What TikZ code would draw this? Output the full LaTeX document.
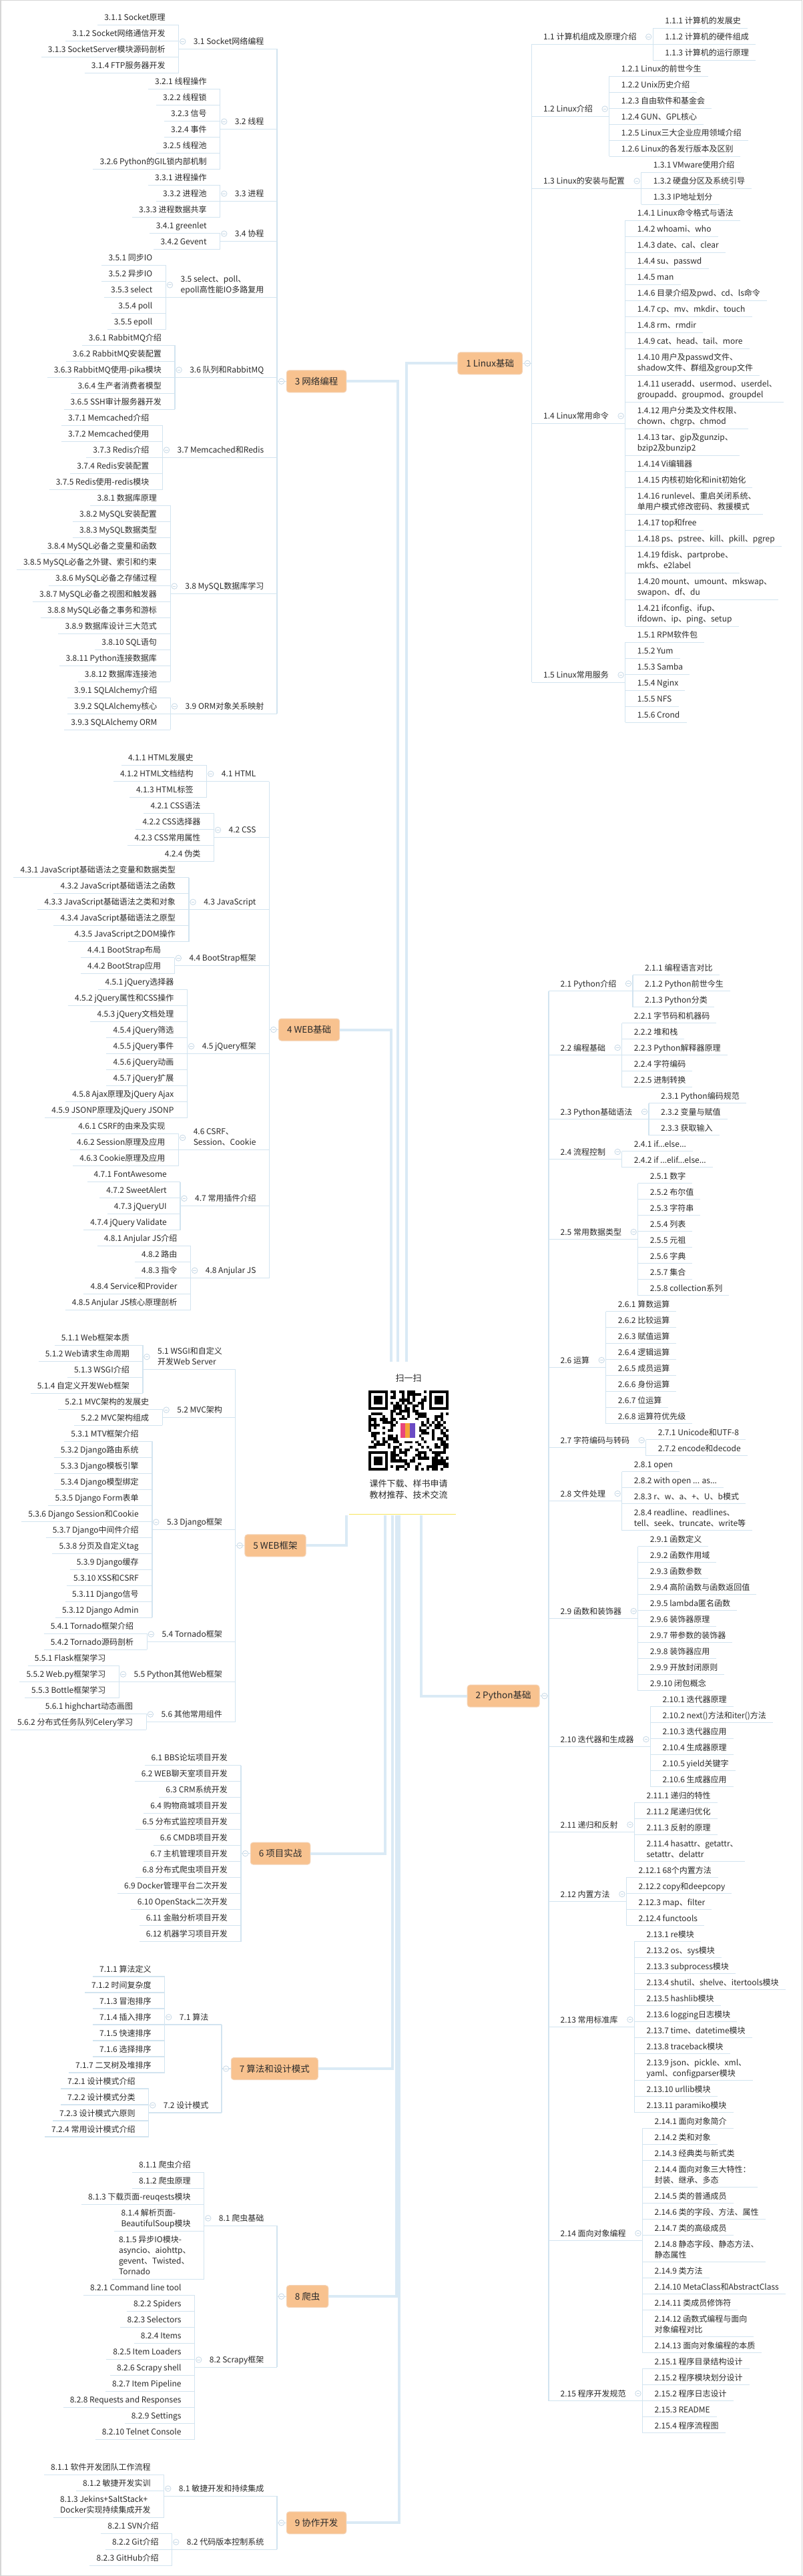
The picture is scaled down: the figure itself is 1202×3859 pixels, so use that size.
\documentclass[tikz,border=0pt]{standalone}
\usepackage{fontspec}
\setmainfont{Noto Sans CJK SC}
\usetikzlibrary{calc}
\definecolor{ulc}{HTML}{D2E4F0}
\definecolor{connc}{HTML}{DAEAF5}
\definecolor{boxfill}{HTML}{F8C28F}
\definecolor{boxline}{HTML}{F4D3B6}
\definecolor{txtc}{HTML}{2A2A2A}
\definecolor{circc}{HTML}{C6D8E6}
\definecolor{qrpink}{HTML}{E8457C}
\definecolor{qrorange}{HTML}{F4A336}
\definecolor{qrpurple}{HTML}{6A4BC4}
\definecolor{hubline}{HTML}{F6E45A}
\definecolor{pagec}{HTML}{D6D6D6}

\newdimen\Wd
\newcount\LeafNo
\newcount\SubNo
\newif\ifRight
\def\lfnt{\fontsize{12}{16}\selectfont}
\def\bfnt{\fontsize{13.5}{16}\selectfont}
\def\hfnt{\fontsize{13}{17}\selectfont}

\tikzset{
  uln/.style={ulc, line width=1.3pt},
  leaf/.style={inner sep=0pt, align=left, font=\lfnt, text=txtc},
  subt/.style={inner sep=0pt, align=left, font=\lfnt, text=txtc},
  mainbox/.style={rounded corners=4pt, fill=boxfill, draw=boxline, line width=1pt,
    minimum height=33pt, inner xsep=12.5pt, inner ysep=0pt, font=\bfnt, text=txtc},
  collapse/.style={circle, draw=circc, fill=white, line width=0.8pt, minimum size=8.5pt, inner sep=0pt,
    path picture={\draw[circc, line width=0.9pt] ([xshift=-2.3pt]path picture bounding box.center) -- ([xshift=2.3pt]path picture bounding box.center);}},
  conn/.style={connc, line width=4pt},
}

\makeatletter
\def\StartSec#1#2#3{\xdef\TrunkX{#1}\xdef\Ycur{#2}\gdef\SFirst{}\gdef\SLast{}%
  \ifnum#3=1 \global\Righttrue\else\global\Rightfalse\fi}
\def\SubBegin#1{\gdef\SubText{#1}\gdef\FirstY{}\gdef\LastY{}\gdef\LeafQueue{}}
\def\Leaf#1#2{%
  \pgfmathsetmacro\tmpA{\Ycur+24+16*(#2-1)}\xdef\Ycur{\tmpA}%
  \ifx\FirstY\empty\xdef\FirstY{\Ycur}\fi
  \xdef\LastY{\Ycur}%
  \xdef\LeafQueue{\unexpanded\expandafter{\LeafQueue}\noexpand\PlaceLeaf{\unexpanded{#1}}{\Ycur}}}
\def\PlaceLeaf#1#2{%
  \global\advance\LeafNo by 1
  \xdef\nm{L\the\LeafNo}%
  \ifRight
    \node[leaf,anchor=south west] (\nm) at (\BrX+18,#2-1.7) {#1\strut};
    \draw[uln] (\BrX,#2) -- ([shift={(10pt,-1.7pt)}]\nm.south east);
  \else
    \node[leaf,anchor=south east] (\nm) at (\BrX-20,#2-1.7) {#1\strut};
    \draw[uln] ([shift={(-10pt,-1.7pt)}]\nm.south west) -- (\BrX,#2);
  \fi}
\def\SubEnd{%
  \global\advance\SubNo by 1
  \xdef\sn{S\the\SubNo}\xdef\cn{cc\the\SubNo}%
  \pgfmathsetmacro\tmpU{(\FirstY+\LastY)/2}%
  \ifRight
    \node[subt,anchor=south west] (\sn) at (\TrunkX+17.5,\tmpU-1.7) {\SubText\strut};
    \pgfextractx{\Wd}{\pgfpointanchor{\sn}{east}}%
    \edef\WdVal{\strip@pt\Wd}%
    \pgfmathsetmacro\tmpA{\WdVal+24.5}%
  \else
    \node[subt,anchor=south east] (\sn) at (\TrunkX-19.5,\tmpU-1.7) {\SubText\strut};
    \pgfextractx{\Wd}{\pgfpointanchor{\sn}{west}}%
    \edef\WdVal{\strip@pt\Wd}%
    \pgfmathsetmacro\tmpA{\WdVal-22}%
  \fi
  \xdef\BrX{\tmpA}%
  \LeafQueue
  \draw[uln] (\BrX,\FirstY) -- (\BrX,\LastY);
  \ifRight
    \draw[uln] (\TrunkX,\tmpU) -- (\BrX,\tmpU);
    \coordinate (\cn) at (\BrX-6.5,0);
  \else
    \draw[uln] (\BrX,\tmpU) -- (\TrunkX,\tmpU);
    \coordinate (\cn) at (\BrX+6,0);
  \fi
  \node[collapse,yshift=1.3pt] (C\the\SubNo) at (\sn.center -| \cn) {};
  \ifx\SFirst\empty\xdef\SFirst{\tmpU}\fi
  \xdef\SLast{\tmpU}}
\def\EndSec#1#2{%
  \pgfmathsetmacro\tmpM{(\SFirst+\SLast)/2}%
  \draw[uln] (\TrunkX,\SFirst) -- (\TrunkX,\SLast);
  \ifRight
    \node[mainbox,anchor=east] (#1) at (\TrunkX-13.5,\tmpM) {#2};
    \draw[uln] (#1.east) -- (\TrunkX,\tmpM);
    \node[collapse] (#1c) at (\TrunkX-6.3,\tmpM) {};
  \else
    \node[mainbox,anchor=west] (#1) at (\TrunkX+13.8,\tmpM) {#2};
    \draw[uln] (\TrunkX,\tmpM) -- (#1.west);
    \node[collapse] (#1c) at (\TrunkX+6.6,\tmpM) {};
  \fi}
\makeatother

\begin{document}
\begin{tikzpicture}[x=1pt,y=-1pt]
\useasboundingbox (0,0) rectangle (1202,3859);
\fill[white] (0,0) rectangle (1202,3859);
\draw[pagec, line width=1.5pt] (0.75,0.75) rectangle (1201.25,3858.25);

% ===== Section 1 =====
\StartSec{796.5}{18.3}{1}
\SubBegin{1.1 计算机组成及原理介绍}
\Leaf{1.1.1 计算机的发展史}{1}
\Leaf{1.1.2 计算机的硬件组成}{1}
\Leaf{1.1.3 计算机的运行原理}{1}
\SubEnd
\SubBegin{1.2 Linux介绍}
\Leaf{1.2.1 Linux的前世今生}{1}
\Leaf{1.2.2 Unix历史介绍}{1}
\Leaf{1.2.3 自由软件和基金会}{1}
\Leaf{1.2.4 GUN、GPL核心}{1}
\Leaf{1.2.5 Linux三大企业应用领域介绍}{1}
\Leaf{1.2.6 Linux的各发行版本及区别}{1}
\SubEnd
\SubBegin{1.3 Linux的安装与配置}
\Leaf{1.3.1 VMware使用介绍}{1}
\Leaf{1.3.2 硬盘分区及系统引导}{1}
\Leaf{1.3.3 IP地址划分}{1}
\SubEnd
\SubBegin{1.4 Linux常用命令}
\Leaf{1.4.1 Linux命令格式与语法}{1}
\Leaf{1.4.2 whoami、who}{1}
\Leaf{1.4.3 date、cal、clear}{1}
\Leaf{1.4.4 su、passwd}{1}
\Leaf{1.4.5 man}{1}
\Leaf{1.4.6 目录介绍及pwd、cd、ls命令}{1}
\Leaf{1.4.7 cp、mv、mkdir、touch}{1}
\Leaf{1.4.8 rm、rmdir}{1}
\Leaf{1.4.9 cat、head、tail、more}{1}
\Leaf{1.4.10 用户及passwd文件、\\shadow文件、群组及group文件}{2}
\Leaf{1.4.11 useradd、usermod、userdel、\\groupadd、groupmod、groupdel}{2}
\Leaf{1.4.12 用户分类及文件权限、\\chown、chgrp、chmod}{2}
\Leaf{1.4.13 tar、gip及gunzip、\\bzip2及bunzip2}{2}
\Leaf{1.4.14 Vi编辑器}{1}
\Leaf{1.4.15 内核初始化和init初始化}{1}
\Leaf{1.4.16 runlevel、重启关闭系统、\\单用户模式修改密码、救援模式}{2}
\Leaf{1.4.17 top和free}{1}
\Leaf{1.4.18 ps、pstree、kill、pkill、pgrep}{1}
\Leaf{1.4.19 fdisk、partprobe、\\mkfs、e2label}{2}
\Leaf{1.4.20 mount、umount、mkswap、\\swapon、df、du}{2}
\Leaf{1.4.21 ifconfig、ifup、\\ifdown、ip、ping、setup}{2}
\SubEnd
\SubBegin{1.5 Linux常用服务}
\Leaf{1.5.1 RPM软件包}{1}
\Leaf{1.5.2 Yum}{1}
\Leaf{1.5.3 Samba}{1}
\Leaf{1.5.4 Nginx}{1}
\Leaf{1.5.5 NFS}{1}
\Leaf{1.5.6 Crond}{1}
\SubEnd
\EndSec{s1}{1 Linux基础}

% ===== Section 2 =====
\StartSec{822}{1436.7}{1}
\SubBegin{2.1 Python介绍}
\Leaf{2.1.1 编程语言对比}{1}
\Leaf{2.1.2 Python前世今生}{1}
\Leaf{2.1.3 Python分类}{1}
\SubEnd
\SubBegin{2.2 编程基础}
\Leaf{2.2.1 字节码和机器码}{1}
\Leaf{2.2.2 堆和栈}{1}
\Leaf{2.2.3 Python解释器原理}{1}
\Leaf{2.2.4 字符编码}{1}
\Leaf{2.2.5 进制转换}{1}
\SubEnd
\SubBegin{2.3 Python基础语法}
\Leaf{2.3.1 Python编码规范}{1}
\Leaf{2.3.2 变量与赋值}{1}
\Leaf{2.3.3 获取输入}{1}
\SubEnd
\SubBegin{2.4 流程控制}
\Leaf{2.4.1 if...else...}{1}
\Leaf{2.4.2 if ...elif...else...}{1}
\SubEnd
\SubBegin{2.5 常用数据类型}
\Leaf{2.5.1 数字}{1}
\Leaf{2.5.2 布尔值}{1}
\Leaf{2.5.3 字符串}{1}
\Leaf{2.5.4 列表}{1}
\Leaf{2.5.5 元祖}{1}
\Leaf{2.5.6 字典}{1}
\Leaf{2.5.7 集合}{1}
\Leaf{2.5.8 collection系列}{1}
\SubEnd
\SubBegin{2.6 运算}
\Leaf{2.6.1 算数运算}{1}
\Leaf{2.6.2 比较运算}{1}
\Leaf{2.6.3 赋值运算}{1}
\Leaf{2.6.4 逻辑运算}{1}
\Leaf{2.6.5 成员运算}{1}
\Leaf{2.6.6 身份运算}{1}
\Leaf{2.6.7 位运算}{1}
\Leaf{2.6.8 运算符优先级}{1}
\SubEnd
\SubBegin{2.7 字符编码与转码}
\Leaf{2.7.1 Unicode和UTF-8}{1}
\Leaf{2.7.2 encode和decode}{1}
\SubEnd
\SubBegin{2.8 文件处理}
\Leaf{2.8.1 open}{1}
\Leaf{2.8.2 with open ... as...}{1}
\Leaf{2.8.3 r、w、a、+、U、b模式}{1}
\Leaf{2.8.4 readline、readlines、\\tell、seek、truncate、write等}{2}
\SubEnd
\SubBegin{2.9 函数和装饰器}
\Leaf{2.9.1 函数定义}{1}
\Leaf{2.9.2 函数作用域}{1}
\Leaf{2.9.3 函数参数}{1}
\Leaf{2.9.4 高阶函数与函数返回值}{1}
\Leaf{2.9.5 lambda匿名函数}{1}
\Leaf{2.9.6 装饰器原理}{1}
\Leaf{2.9.7 带参数的装饰器}{1}
\Leaf{2.9.8 装饰器应用}{1}
\Leaf{2.9.9 开放封闭原则}{1}
\Leaf{2.9.10 闭包概念}{1}
\SubEnd
\SubBegin{2.10 迭代器和生成器}
\Leaf{2.10.1 迭代器原理}{1}
\Leaf{2.10.2 next()方法和iter()方法}{1}
\Leaf{2.10.3 迭代器应用}{1}
\Leaf{2.10.4 生成器原理}{1}
\Leaf{2.10.5 yield关键字}{1}
\Leaf{2.10.6 生成器应用}{1}
\SubEnd
\SubBegin{2.11 递归和反射}
\Leaf{2.11.1 递归的特性}{1}
\Leaf{2.11.2 尾递归优化}{1}
\Leaf{2.11.3 反射的原理}{1}
\Leaf{2.11.4 hasattr、getattr、\\setattr、delattr}{2}
\SubEnd
\SubBegin{2.12 内置方法}
\Leaf{2.12.1 68个内置方法}{1}
\Leaf{2.12.2 copy和deepcopy}{1}
\Leaf{2.12.3 map、filter}{1}
\Leaf{2.12.4 functools}{1}
\SubEnd
\SubBegin{2.13 常用标准库}
\Leaf{2.13.1 re模块}{1}
\Leaf{2.13.2 os、sys模块}{1}
\Leaf{2.13.3 subprocess模块}{1}
\Leaf{2.13.4 shutil、shelve、itertools模块}{1}
\Leaf{2.13.5 hashlib模块}{1}
\Leaf{2.13.6 logging日志模块}{1}
\Leaf{2.13.7 time、datetime模块}{1}
\Leaf{2.13.8 traceback模块}{1}
\Leaf{2.13.9 json、pickle、xml、\\yaml、configparser模块}{2}
\Leaf{2.13.10 urllib模块}{1}
\Leaf{2.13.11 paramiko模块}{1}
\SubEnd
\SubBegin{2.14 面向对象编程}
\Leaf{2.14.1 面向对象简介}{1}
\Leaf{2.14.2 类和对象}{1}
\Leaf{2.14.3 经典类与新式类}{1}
\Leaf{2.14.4 面向对象三大特性：\\封装、继承、多态}{2}
\Leaf{2.14.5 类的普通成员}{1}
\Leaf{2.14.6 类的字段、方法、属性}{1}
\Leaf{2.14.7 类的高级成员}{1}
\Leaf{2.14.8 静态字段、静态方法、\\静态属性}{2}
\Leaf{2.14.9 类方法}{1}
\Leaf{2.14.10 MetaClass和AbstractClass}{1}
\Leaf{2.14.11 类成员修饰符}{1}
\Leaf{2.14.12 函数式编程与面向\\对象编程对比}{2}
\Leaf{2.14.13 面向对象编程的本质}{1}
\SubEnd
\SubBegin{2.15 程序开发规范}
\Leaf{2.15.1 程序目录结构设计}{1}
\Leaf{2.15.2 程序模块划分设计}{1}
\Leaf{2.15.2 程序日志设计}{1}
\Leaf{2.15.3 README}{1}
\Leaf{2.15.4 程序流程图}{1}
\SubEnd
\EndSec{s2}{2 Python基础}

% ===== Section 3 =====
\StartSec{415}{13.3}{0}
\SubBegin{3.1 Socket网络编程}
\Leaf{3.1.1 Socket原理}{1}
\Leaf{3.1.2 Socket网络通信开发}{1}
\Leaf{3.1.3 SocketServer模块源码剖析}{1}
\Leaf{3.1.4 FTP服务器开发}{1}
\SubEnd
\SubBegin{3.2 线程}
\Leaf{3.2.1 线程操作}{1}
\Leaf{3.2.2 线程锁}{1}
\Leaf{3.2.3 信号}{1}
\Leaf{3.2.4 事件}{1}
\Leaf{3.2.5 线程池}{1}
\Leaf{3.2.6 Python的GIL锁内部机制}{1}
\SubEnd
\SubBegin{3.3 进程}
\Leaf{3.3.1 进程操作}{1}
\Leaf{3.3.2 进程池}{1}
\Leaf{3.3.3 进程数据共享}{1}
\SubEnd
\SubBegin{3.4 协程}
\Leaf{3.4.1 greenlet}{1}
\Leaf{3.4.2 Gevent}{1}
\SubEnd
\SubBegin{3.5 select、poll、\\epoll高性能IO多路复用}
\Leaf{3.5.1 同步IO}{1}
\Leaf{3.5.2 异步IO}{1}
\Leaf{3.5.3 select}{1}
\Leaf{3.5.4 poll}{1}
\Leaf{3.5.5 epoll}{1}
\SubEnd
\SubBegin{3.6 队列和RabbitMQ}
\Leaf{3.6.1 RabbitMQ介绍}{1}
\Leaf{3.6.2 RabbitMQ安装配置}{1}
\Leaf{3.6.3 RabbitMQ使用-pika模块}{1}
\Leaf{3.6.4 生产者消费者模型}{1}
\Leaf{3.6.5 SSH审计服务器开发}{1}
\SubEnd
\SubBegin{3.7 Memcached和Redis}
\Leaf{3.7.1 Memcached介绍}{1}
\Leaf{3.7.2 Memcached使用}{1}
\Leaf{3.7.3 Redis介绍}{1}
\Leaf{3.7.4 Redis安装配置}{1}
\Leaf{3.7.5 Redis使用-redis模块}{1}
\SubEnd
\SubBegin{3.8 MySQL数据库学习}
\Leaf{3.8.1 数据库原理}{1}
\Leaf{3.8.2 MySQL安装配置}{1}
\Leaf{3.8.3 MySQL数据类型}{1}
\Leaf{3.8.4 MySQL必备之变量和函数}{1}
\Leaf{3.8.5 MySQL必备之外键、索引和约束}{1}
\Leaf{3.8.6 MySQL必备之存储过程}{1}
\Leaf{3.8.7 MySQL必备之视图和触发器}{1}
\Leaf{3.8.8 MySQL必备之事务和游标}{1}
\Leaf{3.8.9 数据库设计三大范式}{1}
\Leaf{3.8.10 SQL语句}{1}
\Leaf{3.8.11 Python连接数据库}{1}
\Leaf{3.8.12 数据库连接池}{1}
\SubEnd
\SubBegin{3.9 ORM对象关系映射}
\Leaf{3.9.1 SQLAlchemy介绍}{1}
\Leaf{3.9.2 SQLAlchemy核心}{1}
\Leaf{3.9.3 SQLAlchemy ORM}{1}
\SubEnd
\EndSec{s3}{3 网络编程}

% ===== Section 4 =====
\StartSec{403.2}{1122.5}{0}
\SubBegin{4.1 HTML}
\Leaf{4.1.1 HTML发展史}{1}
\Leaf{4.1.2 HTML文档结构}{1}
\Leaf{4.1.3 HTML标签}{1}
\SubEnd
\SubBegin{4.2 CSS}
\Leaf{4.2.1 CSS语法}{1}
\Leaf{4.2.2 CSS选择器}{1}
\Leaf{4.2.3 CSS常用属性}{1}
\Leaf{4.2.4 伪类}{1}
\SubEnd
\SubBegin{4.3 JavaScript}
\Leaf{4.3.1 JavaScript基础语法之变量和数据类型}{1}
\Leaf{4.3.2 JavaScript基础语法之函数}{1}
\Leaf{4.3.3 JavaScript基础语法之类和对象}{1}
\Leaf{4.3.4 JavaScript基础语法之原型}{1}
\Leaf{4.3.5 JavaScript之DOM操作}{1}
\SubEnd
\SubBegin{4.4 BootStrap框架}
\Leaf{4.4.1 BootStrap布局}{1}
\Leaf{4.4.2 BootStrap应用}{1}
\SubEnd
\SubBegin{4.5 jQuery框架}
\Leaf{4.5.1 jQuery选择器}{1}
\Leaf{4.5.2 jQuery属性和CSS操作}{1}
\Leaf{4.5.3 jQuery文档处理}{1}
\Leaf{4.5.4 jQuery筛选}{1}
\Leaf{4.5.5 jQuery事件}{1}
\Leaf{4.5.6 jQuery动画}{1}
\Leaf{4.5.7 jQuery扩展}{1}
\Leaf{4.5.8 Ajax原理及jQuery Ajax}{1}
\Leaf{4.5.9 JSONP原理及jQuery JSONP}{1}
\SubEnd
\SubBegin{4.6 CSRF、\\Session、Cookie}
\Leaf{4.6.1 CSRF的由来及实现}{1}
\Leaf{4.6.2 Session原理及应用}{1}
\Leaf{4.6.3 Cookie原理及应用}{1}
\SubEnd
\SubBegin{4.7 常用插件介绍}
\Leaf{4.7.1 FontAwesome}{1}
\Leaf{4.7.2 SweetAlert}{1}
\Leaf{4.7.3 jQueryUI}{1}
\Leaf{4.7.4 jQuery Validate}{1}
\SubEnd
\SubBegin{4.8 Anjular JS}
\Leaf{4.8.1 Anjular JS介绍}{1}
\Leaf{4.8.2 路由}{1}
\Leaf{4.8.3 指令}{1}
\Leaf{4.8.4 Service和Provider}{1}
\Leaf{4.8.5 Anjular JS核心原理剖析}{1}
\SubEnd
\EndSec{s4}{4 WEB基础}

% ===== Section 5 =====
\StartSec{352.6}{1991.3}{0}
\SubBegin{5.1 WSGI和自定义\\开发Web Server}
\Leaf{5.1.1 Web框架本质}{1}
\Leaf{5.1.2 Web请求生命周期}{1}
\Leaf{5.1.3 WSGI介绍}{1}
\Leaf{5.1.4 自定义开发Web框架}{1}
\SubEnd
\SubBegin{5.2 MVC架构}
\Leaf{5.2.1 MVC架构的发展史}{1}
\Leaf{5.2.2 MVC架构组成}{1}
\SubEnd
\SubBegin{5.3 Django框架}
\Leaf{5.3.1 MTV框架介绍}{1}
\Leaf{5.3.2 Django路由系统}{1}
\Leaf{5.3.3 Django模板引擎}{1}
\Leaf{5.3.4 Django模型绑定}{1}
\Leaf{5.3.5 Django Form表单}{1}
\Leaf{5.3.6 Django Session和Cookie}{1}
\Leaf{5.3.7 Django中间件介绍}{1}
\Leaf{5.3.8 分页及自定义tag}{1}
\Leaf{5.3.9 Django缓存}{1}
\Leaf{5.3.10 XSS和CSRF}{1}
\Leaf{5.3.11 Django信号}{1}
\Leaf{5.3.12 Django Admin}{1}
\SubEnd
\SubBegin{5.4 Tornado框架}
\Leaf{5.4.1 Tornado框架介绍}{1}
\Leaf{5.4.2 Tornado源码剖析}{1}
\SubEnd
\SubBegin{5.5 Python其他Web框架}
\Leaf{5.5.1 Flask框架学习}{1}
\Leaf{5.5.2 Web.py框架学习}{1}
\Leaf{5.5.3 Bottle框架学习}{1}
\SubEnd
\SubBegin{5.6 其他常用组件}
\Leaf{5.6.1 highchart动态画图}{1}
\Leaf{5.6.2 分布式任务队列Celery学习}{1}
\SubEnd
\EndSec{s5}{5 WEB框架}

% ===== Section 6 (direct leaves) =====
\StartSec{361}{2620.6}{0}
\SubBegin{}
\Leaf{6.1 BBS论坛项目开发}{1}
\Leaf{6.2 WEB聊天室项目开发}{1}
\Leaf{6.3 CRM系统开发}{1}
\Leaf{6.4 购物商城项目开发}{1}
\Leaf{6.5 分布式监控项目开发}{1}
\Leaf{6.6 CMDB项目开发}{1}
\Leaf{6.7 主机管理项目开发}{1}
\Leaf{6.8 分布式爬虫项目开发}{1}
\Leaf{6.9 Docker管理平台二次开发}{1}
\Leaf{6.10 OpenStack二次开发}{1}
\Leaf{6.11 金融分析项目开发}{1}
\Leaf{6.12 机器学习项目开发}{1}
\xdef\BrX{361}\LeafQueue
\xdef\SFirst{\FirstY}\xdef\SLast{\LastY}
\EndSec{s6}{6 项目实战}

% ===== Section 7 =====
\StartSec{332}{2937}{0}
\SubBegin{7.1 算法}
\Leaf{7.1.1 算法定义}{1}
\Leaf{7.1.2 时间复杂度}{1}
\Leaf{7.1.3 冒泡排序}{1}
\Leaf{7.1.4 插入排序}{1}
\Leaf{7.1.5 快速排序}{1}
\Leaf{7.1.6 选择排序}{1}
\Leaf{7.1.7 二叉树及堆排序}{1}
\SubEnd
\SubBegin{7.2 设计模式}
\Leaf{7.2.1 设计模式介绍}{1}
\Leaf{7.2.2 设计模式分类}{1}
\Leaf{7.2.3 设计模式六原则}{1}
\Leaf{7.2.4 常用设计模式介绍}{1}
\SubEnd
\EndSec{s7}{7 算法和设计模式}

% ===== Section 8 =====
\StartSec{415}{3230.2}{0}
\SubBegin{8.1 爬虫基础}
\Leaf{8.1.1 爬虫介绍}{1}
\Leaf{8.1.2 爬虫原理}{1}
\Leaf{8.1.3 下载页面-reuqests模块}{1}
\Leaf{8.1.4 解析页面-\\BeautifulSoup模块}{2}
\Leaf{8.1.5 异步IO模块-\\asyncio、aiohttp、\\gevent、Twisted、\\Tornado}{4}
\SubEnd
\SubBegin{8.2 Scrapy框架}
\Leaf{8.2.1 Command line tool}{1}
\Leaf{8.2.2 Spiders}{1}
\Leaf{8.2.3 Selectors}{1}
\Leaf{8.2.4 Items}{1}
\Leaf{8.2.5 Item Loaders}{1}
\Leaf{8.2.6 Scrapy shell}{1}
\Leaf{8.2.7 Item Pipeline}{1}
\Leaf{8.2.8 Requests and Responses}{1}
\Leaf{8.2.9 Settings}{1}
\Leaf{8.2.10 Telnet Console}{1}
\SubEnd
\EndSec{s8}{8 爬虫}

% ===== Section 9 =====
\StartSec{415}{3683.3}{0}
\SubBegin{8.1 敏捷开发和持续集成}
\Leaf{8.1.1 软件开发团队工作流程}{1}
\Leaf{8.1.2 敏捷开发实训}{1}
\Leaf{8.1.3 Jekins+SaltStack+\\Docker实现持续集成开发}{2}
\SubEnd
\SubBegin{8.2 代码版本控制系统}
\Leaf{8.2.1 SVN介绍}{1}
\Leaf{8.2.2 Git介绍}{1}
\Leaf{8.2.3 GitHub介绍}{1}
\SubEnd
\EndSec{s9}{9 协作开发}

% ===== central hub =====
\node[inner sep=0pt, minimum width=160pt, minimum height=230pt] (hub) at (603,2155) {};
\draw[conn] ([xshift=6pt]hub.north) |- (s1.west);
\draw[conn] ([xshift=-7pt]hub.north) |- (s3.east);
\draw[conn] ([xshift=-17pt]hub.north) |- (s4.east);
\draw[conn] ([xshift=28pt]hub.south) |- (s2.west);
\draw[conn] ([xshift=-84pt]hub.south) |- (s5.east);
\draw[conn] ([xshift=-26pt]hub.south) |- (s6.east);
\draw[conn] ([xshift=-15pt]hub.south) |- (s7.east);
\draw[conn] ([xshift=-9pt]hub.south) |- (s8.east);
\draw[conn] ([xshift=-5pt]hub.south) |- (s9.east);

\node[font=\hfnt, text=txtc, inner sep=0pt] (hubtitle) at (612,2065) {扫一扫};
\begin{scope}[shift={(552,2083)}]
\pgfmathsetseed{20170}
\foreach \qi in {0,...,28}{\foreach \qj in {0,...,28}{%
  \pgfmathparse{(rnd<0.5)&&!((\qi<8)&&(\qj<8))&&!((\qi>20)&&(\qj<8))&&!((\qi<8)&&(\qj>20))&&!((\qi>10)&&(\qi<18)&&(\qj>10)&&(\qj<18))}%
  \ifdim\pgfmathresult pt>0.5pt \fill[black] (\qi*4.138,\qj*4.138) rectangle ++(4.2,4.2);\fi}}
\foreach \fx/\fy in {0/0,22/0,0/22}{%
  \fill[black] (\fx*4.138,\fy*4.138) rectangle ++(28.97,28.97);
  \fill[white] (\fx*4.138+4.138,\fy*4.138+4.138) rectangle ++(20.69,20.69);
  \fill[black] (\fx*4.138+8.276,\fy*4.138+8.276) rectangle ++(12.41,12.41);}
\end{scope}
\fill[white, rounded corners=3pt] (596,2127) rectangle (628,2159);
\fill[qrpink] (600,2132) rectangle (606.5,2154);
\fill[qrorange] (607,2132) rectangle (613.5,2154);
\fill[qrpurple] (614,2132) rectangle (621.5,2154);
\node[font=\hfnt, text=txtc, inner sep=0pt, align=center] (hubtext) at (612,2231) {课件下载、样书申请\\教材推荐、技术交流};
\draw[hubline, line width=1pt] ([yshift=2pt]hub.south west) -- ([yshift=2pt]hub.south east);
\end{tikzpicture}
\end{document}
